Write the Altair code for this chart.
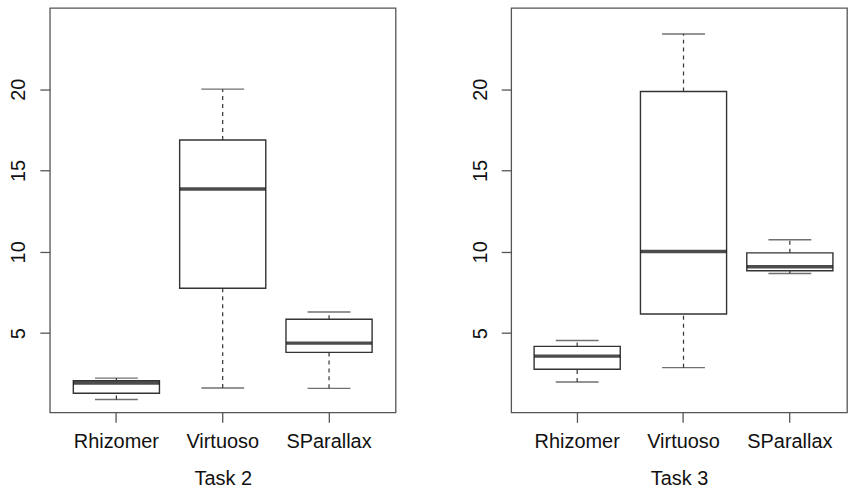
import altair as alt
import pandas as pd

categories = ["Rhizomer", "Virtuoso", "SParallax"]

task2_low = [0.92, 1.63, 1.61]
task2_q1 = [1.31, 7.76, 3.82]
task2_median = [1.94, 13.86, 4.39]
task2_q3 = [2.08, 16.88, 5.86]
task2_high = [2.24, 20.0, 6.30]

task3_low = [2.00, 2.88, 8.67]
task3_q1 = [2.78, 6.18, 8.84]
task3_median = [3.59, 10.02, 9.08]
task3_q3 = [4.19, 19.86, 9.94]
task3_high = [4.55, 23.39, 10.74]

y_ticks = [5, 10, 15, 20]
panel_titles = ["Task 2", "Task 3"]

FONT = "Liberation Sans"
TEXT = "#111111"
LINE = "#333333"


def make_df(low, q1, med, q3, high):
    return pd.DataFrame({"cat": categories, "low": low, "q1": q1,
                         "median": med, "q3": q3, "high": high})


def panel(df, title, width, pad_outer, align):
    x = alt.X("cat:N", sort=categories,
              scale=alt.Scale(paddingInner=0, paddingOuter=pad_outer, align=align),
              axis=alt.Axis(title=title, labelAngle=0, domain=False, ticks=True,
                            tickSize=10, tickColor="#555555", tickWidth=1.3,
                            labelFont=FONT, labelFontSize=20, labelColor=TEXT,
                            labelBaseline="alphabetic", labelPadding=25,
                            titleFont=FONT, titleFontSize=20, titleColor=TEXT,
                            titleFontWeight="normal", titleBaseline="alphabetic",
                            titleY=72))
    yscale = alt.Scale(domain=[0.13, 25.0], nice=False, zero=False)
    yaxis = alt.Axis(values=y_ticks, title=None, grid=False, domain=False,
                     tickSize=10, tickColor="#555555", tickWidth=1.3,
                     labelAngle=270, labelAlign="center", labelBaseline="alphabetic",
                     labelPadding=15, labelFont=FONT, labelFontSize=20,
                     labelColor=TEXT)
    base = alt.Chart(df)
    lower = base.mark_rule(color=LINE, strokeWidth=1.2, strokeDash=[4, 4]).encode(
        x=x, y=alt.Y("low:Q", scale=yscale, axis=yaxis), y2="q1:Q")
    upper = base.mark_rule(color=LINE, strokeWidth=1.2, strokeDash=[4, 4]).encode(
        x=x, y=alt.Y("q3:Q", scale=yscale, axis=yaxis), y2="high:Q")
    cap_lo = base.mark_tick(color=LINE, size=43, thickness=1.4).encode(
        x=x, y=alt.Y("low:Q", scale=yscale, axis=yaxis))
    cap_hi = base.mark_tick(color=LINE, size=43, thickness=1.4).encode(
        x=x, y=alt.Y("high:Q", scale=yscale, axis=yaxis))
    box = base.mark_bar(fill="white", stroke=LINE, strokeWidth=1.4,
                        width=alt.RelativeBandSize(0.81)).encode(
        x=x, y=alt.Y("q1:Q", scale=yscale, axis=yaxis), y2="q3:Q")
    med = base.mark_tick(color="black", size=86, thickness=3.4).encode(
        x=x, y=alt.Y("median:Q", scale=yscale, axis=yaxis))
    return alt.layer(lower, upper, cap_lo, cap_hi, box, med).properties(
        width=width, height=406)


left = panel(make_df(task2_low, task2_q1, task2_median, task2_q3, task2_high),
             panel_titles[0], 347, 0.126, 0.5)
right = panel(make_df(task3_low, task3_q1, task3_median, task3_q3, task3_high),
              panel_titles[1], 337, 0.079, 0.763)

chart = alt.hconcat(left, right, spacing=73).properties(
    padding={"left": 8, "top": 6, "right": 0, "bottom": 0},
    background="white",
).configure_view(stroke="#555555", strokeWidth=1.3)

chart.save("out.html", embed_options={"renderer": "svg", "actions": False})
